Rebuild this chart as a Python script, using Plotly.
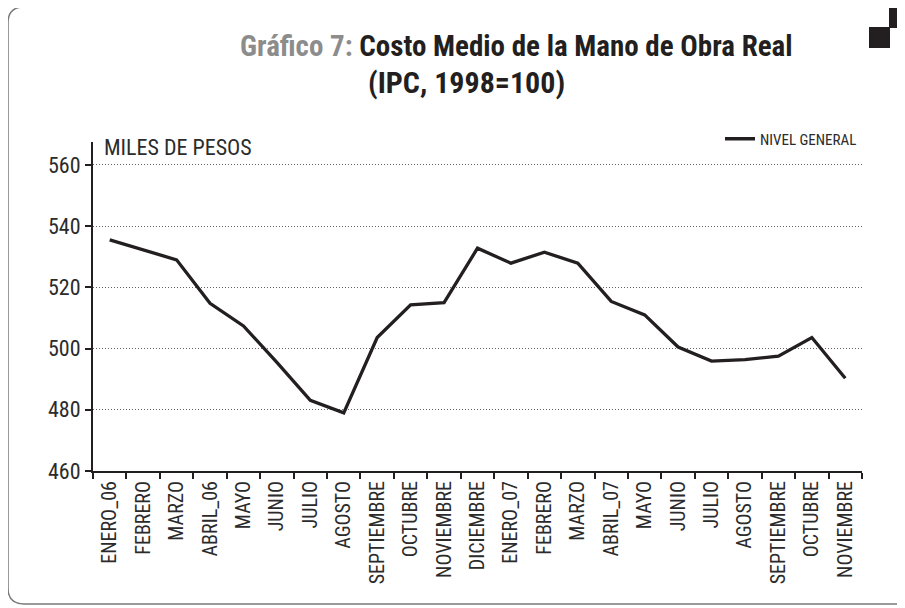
import plotly.graph_objects as go

categories = ["ENERO_06", "FEBRERO", "MARZO", "ABRIL_06", "MAYO", "JUNIO", "JULIO",
              "AGOSTO", "SEPTIEMBRE", "OCTUBRE", "NOVIEMBRE", "DICIEMBRE", "ENERO_07",
              "FEBRERO ", "MARZO ", "ABRIL_07", "MAYO ", "JUNIO ", "JULIO ", "AGOSTO ",
              "SEPTIEMBRE ", "OCTUBRE ", "NOVIEMBRE "]
nivel_general = [535.5, 532.2, 529.0, 514.8, 507.4, 495.5, 483.1, 479.0, 503.6, 514.3,
                 515.0, 532.8, 527.9, 531.5, 527.9, 515.4, 511.0, 500.5, 495.9, 496.4,
                 497.5, 503.6, 490.3]
y_ticks = [460, 480, 500, 520, 540, 560]
series_name = "NIVEL GENERAL"

# Page has an 8px body margin, so the figure is placed 8px right/down.
OFF = 8
W, H = 905 - OFF, 608 - OFF
L, R, T, B = 93, 862, 142, 471  # plot area in page pixels


def px(x):
    return (x - L) / (R - L)


def py(y):
    return (B - y) / (B - T)


COND = "Liberation Sans Narrow, Arial Narrow, Roboto Condensed, Liberation Sans, Arial, sans-serif"
DARK = "#231f20"
TXT = "#2b2b2b"

fig = go.Figure()
fig.add_trace(go.Scatter(
    x=categories, y=nivel_general, mode="lines", name=series_name,
    line=dict(color=DARK, width=3.3),
))

fig.update_layout(
    width=W, height=H,
    margin=dict(l=L - OFF, r=W - (R - OFF), t=T - OFF, b=H - (B - OFF), pad=0),
    paper_bgcolor="white", plot_bgcolor="white",
    font=dict(family=COND, color=TXT),
    showlegend=True,
    legend=dict(
        x=1.0, y=py(139), xanchor="right", yanchor="middle",
        font=dict(family=COND, size=15, color=TXT),
        bgcolor="rgba(0,0,0,0)", borderwidth=0,
        itemwidth=30, tracegroupgap=0,
    ),
    xaxis=dict(
        type="category", tickson="boundaries", ticks="outside", ticklen=6,
        tickwidth=2, tickcolor=DARK, showline=True, linecolor=DARK, linewidth=2,
        showgrid=False, tickangle=-90, range=[-0.5, len(categories) - 0.5],
        tickfont=dict(family=COND, size=20, color=TXT),
        tickvals=categories,
        ticktext=[c.strip() for c in categories],
    ),
    yaxis=dict(
        range=[460, 567.5], tickvals=y_ticks, ticks="outside", ticklen=6,
        tickwidth=2, tickcolor=DARK, showline=True, linecolor=DARK, linewidth=2,
        showgrid=True, gridcolor="#666666", gridwidth=1, griddash="1px,2px",
        zeroline=False,
        tickfont=dict(family=COND, size=22, color=TXT),
    ),
)

# "MILES DE PESOS" label
fig.add_annotation(
    xref="paper", yref="paper", x=px(102), y=py(148), xanchor="left", yanchor="middle",
    text="MILES DE PESOS", showarrow=False,
    font=dict(family=COND, size=22, color=TXT),
)

# Title
fig.add_annotation(
    xref="paper", yref="paper", x=px(516), y=py(46), xanchor="center", yanchor="middle",
    text="<b><span style='color:#8c8c8c'>Gráfico 7:</span> Costo Medio de la Mano de Obra Real</b>",
    showarrow=False, font=dict(family=COND, size=29, color=DARK),
)
fig.add_annotation(
    xref="paper", yref="paper", x=px(466), y=py(82), xanchor="center", yanchor="middle",
    text="<b>(IPC, 1998=100)</b>",
    showarrow=False, font=dict(family=COND, size=30, color=DARK),
)

# Frame with rounded left corners (right side runs off the image)
r = 16
x0, y0, y1 = 8, 7, 604
x_right = 905
path = (f"M {px(x_right)},{py(y0)} L {px(x0 + r)},{py(y0)} "
        f"Q {px(x0)},{py(y0)} {px(x0)},{py(y0 + r)} "
        f"L {px(x0)},{py(y1 - r)} Q {px(x0)},{py(y1)} {px(x0 + r)},{py(y1)} "
        f"L {px(x_right)},{py(y1)}")
fig.add_shape(type="path", xref="paper", yref="paper", path=path,
              line=dict(color="#7a7a7a", width=1.5), layer="below")

# Decorative squares at top-right
fig.add_shape(type="rect", xref="paper", yref="paper",
              x0=px(889), x1=px(906), y0=py(7), y1=py(28),
              fillcolor=DARK, line=dict(width=0))
fig.add_shape(type="rect", xref="paper", yref="paper",
              x0=px(869), x1=px(890), y0=py(27), y1=py(48),
              fillcolor=DARK, line=dict(width=0))

fig.write_html("out.html")
